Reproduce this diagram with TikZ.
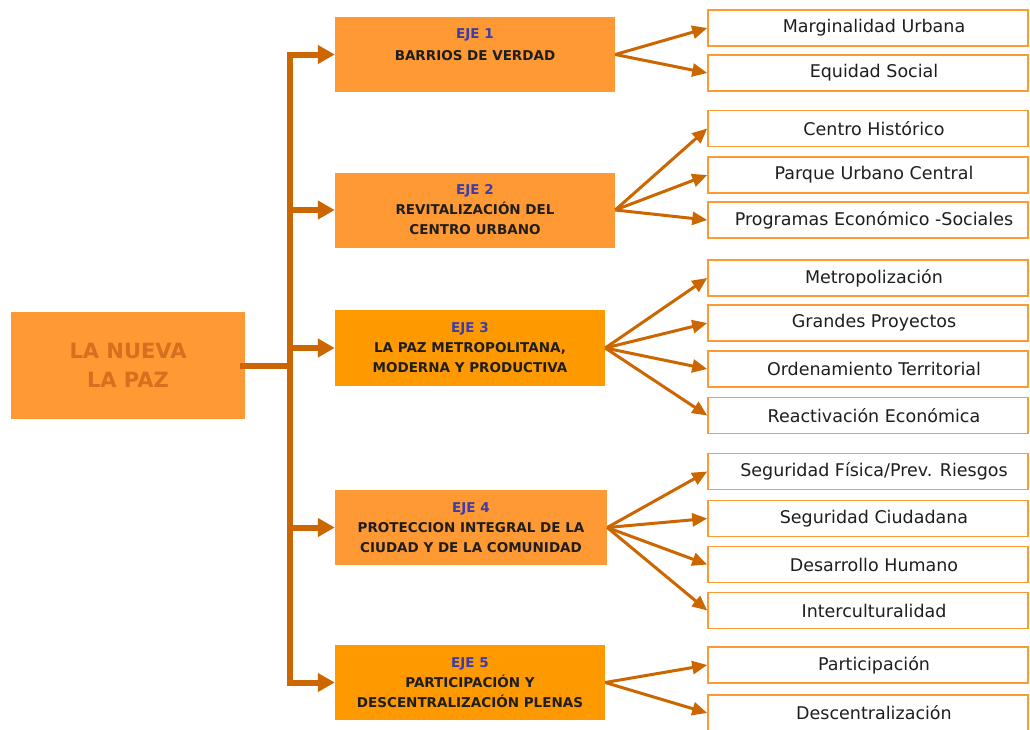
\documentclass[tikz,border=0pt]{standalone}
\usepackage{fontspec}
\setmainfont{DejaVu Sans}
\usetikzlibrary{arrows.meta}
\definecolor{boxA}{RGB}{255,153,51}
\definecolor{boxB}{RGB}{255,153,0}
\definecolor{conn}{RGB}{204,102,0}
\definecolor{ejeblue}{RGB}{60,60,170}
\definecolor{maintxt}{RGB}{212,112,30}
\definecolor{dark}{RGB}{30,30,30}
\begin{document}
\begin{tikzpicture}[x=1pt,y=-1pt,
  mainbox/.style={fill=boxA, draw=none, minimum width=234pt, minimum height=107pt, inner sep=0pt, align=center,
    font=\fontsize{21pt}{29pt}\selectfont\bfseries, text=maintxt},
  ejebox/.style={draw=none, minimum height=75pt, inner sep=0pt, align=center,
    font=\fontsize{13.5pt}{20pt}\selectfont\bfseries, text=dark},
  leaf/.style={draw=boxA, line width=1.5pt, fill=white, minimum width=320pt, minimum height=36pt, inner sep=0pt,
    font=\fontsize{17.5pt}{20pt}\selectfont, text=dark, execute at begin node={\hspace*{12pt}}},
  trunk/.style={draw=conn, line width=6pt},
  trunkarrow/.style={draw=conn, line width=6pt, -{Triangle[length=17pt,width=18pt]}},
  fan/.style={draw=conn, line width=3pt, -{Triangle[length=15pt,width=13pt]}}
]
\useasboundingbox (0,0) rectangle (1030,729);

% main
\node[mainbox] (m) at (128,365.5) {LA NUEVA\\LA PAZ};

% ejes
\node[ejebox, fill=boxA, minimum width=280pt, text depth=19pt] (e1) at (475,54.5) {\textcolor{ejeblue}{EJE 1}\\[2pt]BARRIOS DE VERDAD};
\node[ejebox, fill=boxA, minimum width=280pt] (e2) at (475,210) {\textcolor{ejeblue}{EJE 2}\\REVITALIZACIÓN DEL\\CENTRO URBANO};
\node[ejebox, fill=boxB, minimum width=270pt, minimum height=76pt] (e3) at (470,348) {\textcolor{ejeblue}{EJE 3}\\LA PAZ METROPOLITANA,\\MODERNA Y PRODUCTIVA};
\node[ejebox, fill=boxA, minimum width=272pt] (e4) at (471,527.5) {\textcolor{ejeblue}{EJE 4}\\PROTECCION INTEGRAL DE LA\\CIUDAD Y DE LA COMUNIDAD};
\node[ejebox, fill=boxB, minimum width=270pt] (e5) at (470,682.5) {\textcolor{ejeblue}{EJE 5}\\PARTICIPACIÓN Y\\DESCENTRALIZACIÓN PLENAS};

% leaves
\node[leaf] (r1) at (868,28) {Marginalidad Urbana};
\node[leaf] (r2) at (868,73) {Equidad Social};
\node[leaf] (r3) at (868,128.5) {Centro Histórico};
\node[leaf] (r4) at (868,175) {Parque Urbano Central};
\node[leaf] (r5) at (868,220) {Programas Económico -Sociales};
\node[leaf] (r6) at (868,278) {Metropolización};
\node[leaf] (r7) at (868,323) {Grandes Proyectos};
\node[leaf] (r8) at (868,369) {Ordenamiento Territorial};
\node[leaf] (r9) at (868,415.5) {Reactivación Económica};
\node[leaf] (r10) at (868,471.5) {Seguridad Física/Prev. Riesgos};
\node[leaf] (r11) at (868,518.5) {Seguridad Ciudadana};
\node[leaf] (r12) at (868,564.5) {Desarrollo Humano};
\node[leaf] (r13) at (868,610.5) {Interculturalidad};
\node[leaf] (r14) at (868,665) {Participación};
\node[leaf] (r15) at (868,713) {Descentralización};

% trunk
\coordinate (j) at (290,365.5);
\draw[trunk] ([xshift=-5pt]m.east) -- (j);
\draw[trunk, line cap=rect] (j |- e1.west) -- (j |- e5.west);
\foreach \e in {e1,e2,e3,e4,e5}
  \draw[trunkarrow] (j |- \e.west) -- (\e.west);

% fans
\foreach \r in {r1,r2} \draw[fan] (e1.east) -- (\r.west);
\foreach \r in {r3,r4,r5} \draw[fan] (e2.east) -- (\r.west);
\foreach \r in {r6,r7,r8,r9} \draw[fan] (e3.east) -- (\r.west);
\foreach \r in {r10,r11,r12,r13} \draw[fan] (e4.east) -- (\r.west);
\foreach \r in {r14,r15} \draw[fan] (e5.east) -- (\r.west);
\end{tikzpicture}
\end{document}
